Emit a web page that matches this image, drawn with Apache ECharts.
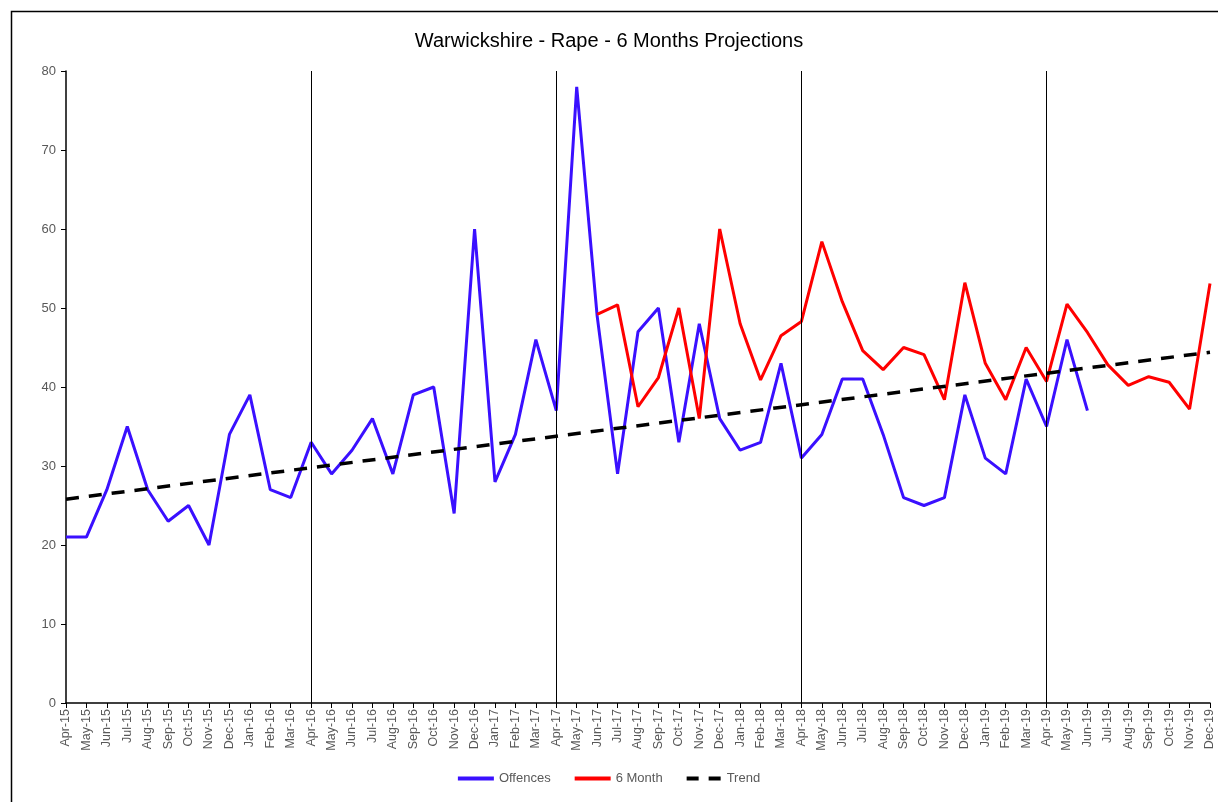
<!DOCTYPE html>
<html>
<head>
<meta charset="utf-8">
<script src="https://cdn.jsdelivr.net/npm/echarts@6/dist/echarts.min.js"></script>
<style>
  html, body { margin: 0; padding: 0; background: #fff; }
  #chart { width: 1218px; height: 802px; }
</style>
</head>
<body>
<div id="chart"></div>
<script>
// Monthly categories, Apr-15 .. Dec-19
const months = ['Apr-15','May-15','Jun-15','Jul-15','Aug-15','Sep-15','Oct-15','Nov-15','Dec-15','Jan-16','Feb-16','Mar-16',
  'Apr-16','May-16','Jun-16','Jul-16','Aug-16','Sep-16','Oct-16','Nov-16','Dec-16','Jan-17','Feb-17','Mar-17',
  'Apr-17','May-17','Jun-17','Jul-17','Aug-17','Sep-17','Oct-17','Nov-17','Dec-17','Jan-18','Feb-18','Mar-18',
  'Apr-18','May-18','Jun-18','Jul-18','Aug-18','Sep-18','Oct-18','Nov-18','Dec-18','Jan-19','Feb-19','Mar-19',
  'Apr-19','May-19','Jun-19','Jul-19','Aug-19','Sep-19','Oct-19','Nov-19','Dec-19'];

// Recorded offences, Apr-15 .. Jun-19
const offences = [21,21,27,35,27,23,25,20,34,39,27,26,
  33,29,32,36,29,39,40,24,60,28,34,46,
  37,78,49,29,47,50,33,48,36,32,33,43,
  31,34,41,41,34,26,25,26,39,31,29,41,
  35,46,37];

// 6 month projection, Jun-17 .. Dec-19
const projectionStart = 'Jun-17';
const projection = [49.2,50.4,37.5,41.2,50.0,36.0,60.0,48.0,40.9,46.5,
  48.3,58.4,50.8,44.6,42.2,45.0,44.1,38.4,53.2,43.0,38.4,45.0,
  40.7,50.5,46.9,42.8,40.2,41.3,40.6,37.2,53.1];

// Linear trend end points
const trendStart = 25.8;
const trendEnd = 44.4;

// Financial year boundaries
const yearMarkers = ['Apr-16','Apr-17','Apr-18','Apr-19'];

const yTicks = { min: 0, max: 80, interval: 10 };

const startIdx = months.indexOf(projectionStart);
const projectionData = months.map((m, i) =>
  (i >= startIdx && i - startIdx < projection.length) ? projection[i - startIdx] : null);
const trendData = [[months[0], trendStart], [months[months.length - 1], trendEnd]];

const chart = echarts.init(document.getElementById('chart'), null, { renderer: 'canvas' });
const grey = '#595959';
const font = '"Liberation Sans", "Open Sans", sans-serif';

chart.setOption({
  animation: false,
  backgroundColor: '#fff',
  textStyle: { fontFamily: font },
  title: {
    text: 'Warwickshire - Rape - 6 Months Projections',
    left: 'center',
    top: 26,
    textStyle: { fontSize: 20, fontWeight: 'normal', color: '#000', fontFamily: font }
  },
  graphic: [{
    type: 'rect',
    left: 9, top: 9,
    shape: { width: 1230, height: 820 },
    style: { fill: 'none', stroke: '#000', lineWidth: 1.5 },
    silent: true
  }],
  legend: {
    bottom: 12,
    left: 'center',
    itemWidth: 36,
    itemHeight: 4,
    itemGap: 24,
    textStyle: { color: grey, fontSize: 13 },
    data: [
      { name: 'Offences', icon: 'rect' },
      { name: '6 Month', icon: 'rect' },
      { name: 'Trend', icon: 'path://M0,0h12v4h-12z M22,0h12v4h-12z' }
    ]
  },
  grid: { left: 66, right: 8, top: 71, bottom: 99, containLabel: false },
  xAxis: {
    type: 'category',
    data: months,
    boundaryGap: false,
    axisLine: { lineStyle: { color: '#000', width: 1.5 } },
    axisTick: { show: true, interval: 0, length: 5, lineStyle: { color: '#000' } },
    axisLabel: { interval: 0, rotate: 90, color: grey, fontSize: 12.5, margin: 6 },
    splitLine: { show: false }
  },
  yAxis: {
    type: 'value',
    min: yTicks.min, max: yTicks.max, interval: yTicks.interval,
    axisLine: { show: true, lineStyle: { color: '#000', width: 1.5 } },
    axisTick: { show: true, length: 5, lineStyle: { color: '#000' } },
    axisLabel: { color: grey, fontSize: 13, margin: 10 },
    splitLine: { show: false }
  },
  series: [
    {
      name: 'Offences',
      type: 'line',
      data: offences,
      symbol: 'none',
      color: '#3A10FF',
      lineStyle: { color: '#3A10FF', width: 3 },
      z: 3,
      markLine: {
        silent: true,
        symbol: ['none', 'none'],
        label: { show: false },
        lineStyle: { color: '#000', width: 1, type: 'solid' },
        data: yearMarkers.map(m => ({ xAxis: m }))
      }
    },
    {
      name: '6 Month',
      type: 'line',
      data: projectionData,
      symbol: 'none',
      color: '#FF0000',
      lineStyle: { color: '#FF0000', width: 3 },
      z: 4
    },
    {
      name: 'Trend',
      type: 'line',
      data: trendData,
      symbol: 'none',
      color: '#000',
      lineStyle: { color: '#000', width: 3.5, type: [13, 10] },
      z: 5
    }
  ]
});
</script>
</body>
</html>
